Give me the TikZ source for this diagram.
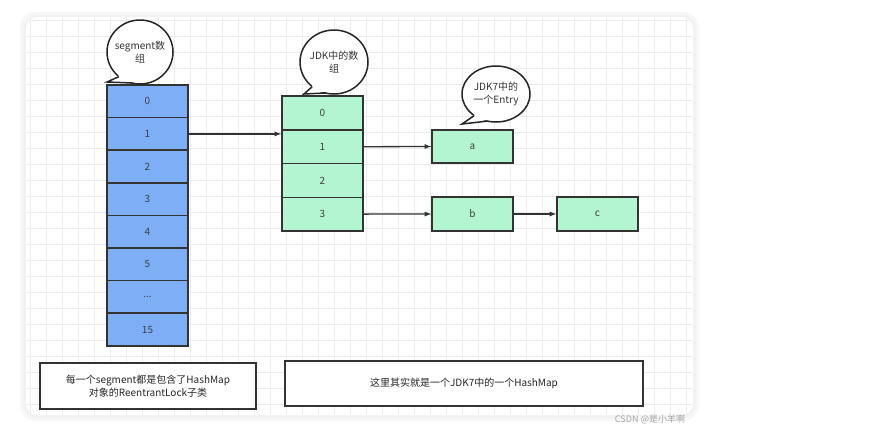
\documentclass[tikz,border=0pt]{standalone}
\usepackage{fontspec}
\setmainfont{Noto Sans CJK SC}
\definecolor{bluec}{HTML}{7EAEF5}
\definecolor{greenc}{HTML}{B2F5D0}
\begin{document}
\begin{tikzpicture}[x=1pt,y=-1pt,
  cell/.style={draw=black!80,line width=1.5pt,minimum width=81pt,inner sep=0pt,font=\fontsize{10}{12}\selectfont,text=black!75},
  gr/.style={cell,fill=greenc},
  note/.style={draw=black!80,line width=1.5pt,fill=white,inner sep=0pt,font=\fontsize{10}{13}\selectfont,align=center,text=black!85},
  arr/.style={-latex,line width=1.3pt,black!80},
  bub/.style={draw=black!85,line width=1.5pt,fill=white}]
\useasboundingbox (0,0) rectangle (880,424);
\fill[white] (0,0) rectangle (880,424);
\fill[black!3,rounded corners=16pt] (20,12) rectangle (699,421);
\fill[black!5,rounded corners=14pt] (23,15) rectangle (696,418);
\fill[white,rounded corners=12pt] (26,17) rectangle (693,415);
\begin{scope}
\clip[rounded corners=12pt] (26,17) rectangle (693,415);
\foreach \x in {30,46,...,690} \draw[black!8,line width=0.5pt] (\x,17) -- (\x,415);
\foreach \y in {20,36,...,415} \draw[black!8,line width=0.5pt] (26,\y) -- (693,\y);
\end{scope}
\tikzset{green/.style={cell,fill=greenc,minimum height=33.7pt}}
\tikzset{blue/.style={cell,fill=bluec,minimum height=32.6pt}}
\foreach \t/\n [count=\i from 0] in {0/b0,1/b1,2/b2,3/b3,4/b4,5/b5,{.{}.{}.}/b6,15/b7}
  \node[blue] (\n) at (147.5,{101.3+32.6*\i}) {\t};
\foreach \t [count=\i from 0] in {0,1,2,3}
  \node[green] (g\t) at (322.5,{113+33.7*\i}) {\t};
\node[gr,minimum height=33pt] (a) at (472.5,146.5) {a};
\node[gr,minimum height=33.7pt] (b) at (472.5,214) {b};
\node[gr,minimum height=33.7pt] (c) at (597.5,214) {c};
\draw[arr] (b1.east) -- (b1.east -| g1.west);
\draw[arr] (g1.east) -- (a.west);
\draw[arr] (g3.east) -- (b.west);
\draw[arr] (b.east) -- (c.west);
\foreach \cx/\cy/\rx/\ry/\tx/\ty/\nm/\txt in {140/52/33/32/107/82/s1/{segment数\\组},334/62/34/32/304/94/s2/{JDK中的数\\组},496/94/34/28/462/124/s3/{JDK7中的\\一个Entry}}{
  \draw[bub] (\cx,\cy) ellipse [x radius=\rx, y radius=\ry];
  \fill[white] ({\cx-0.62*\rx},{\cy+0.72*\ry}) -- (\tx,\ty) -- ({\cx-0.25*\rx},{\cy+0.93*\ry}) -- ({\cx-0.4*\rx},{\cy+0.75*\ry}) -- cycle;
  \draw[black!85,line width=1.5pt] ({\cx-0.64*\rx},{\cy+0.77*\ry}) -- (\tx,\ty) -- ({\cx-0.25*\rx},{\cy+0.968*\ry});
  \node[align=center,font=\fontsize{10}{13}\selectfont,text=black!80,inner sep=0pt] (\nm) at (\cx,\cy) {\txt};
}
\node[note,minimum width=216pt,minimum height=46pt] (n1) at (148,386) {每一个segment都是包含了HashMap\\对象的ReentrantLock子类};
\node[note,minimum width=358pt,minimum height=45pt] (n2) at (464,383.5) {这里其实就是一个JDK7中的一个HashMap};
\node[text=black!35,font=\fontsize{9}{10}\selectfont,inner sep=0pt] (wm) at (650,419) {CSDN @是小羊啊};
\end{tikzpicture}
\end{document}
